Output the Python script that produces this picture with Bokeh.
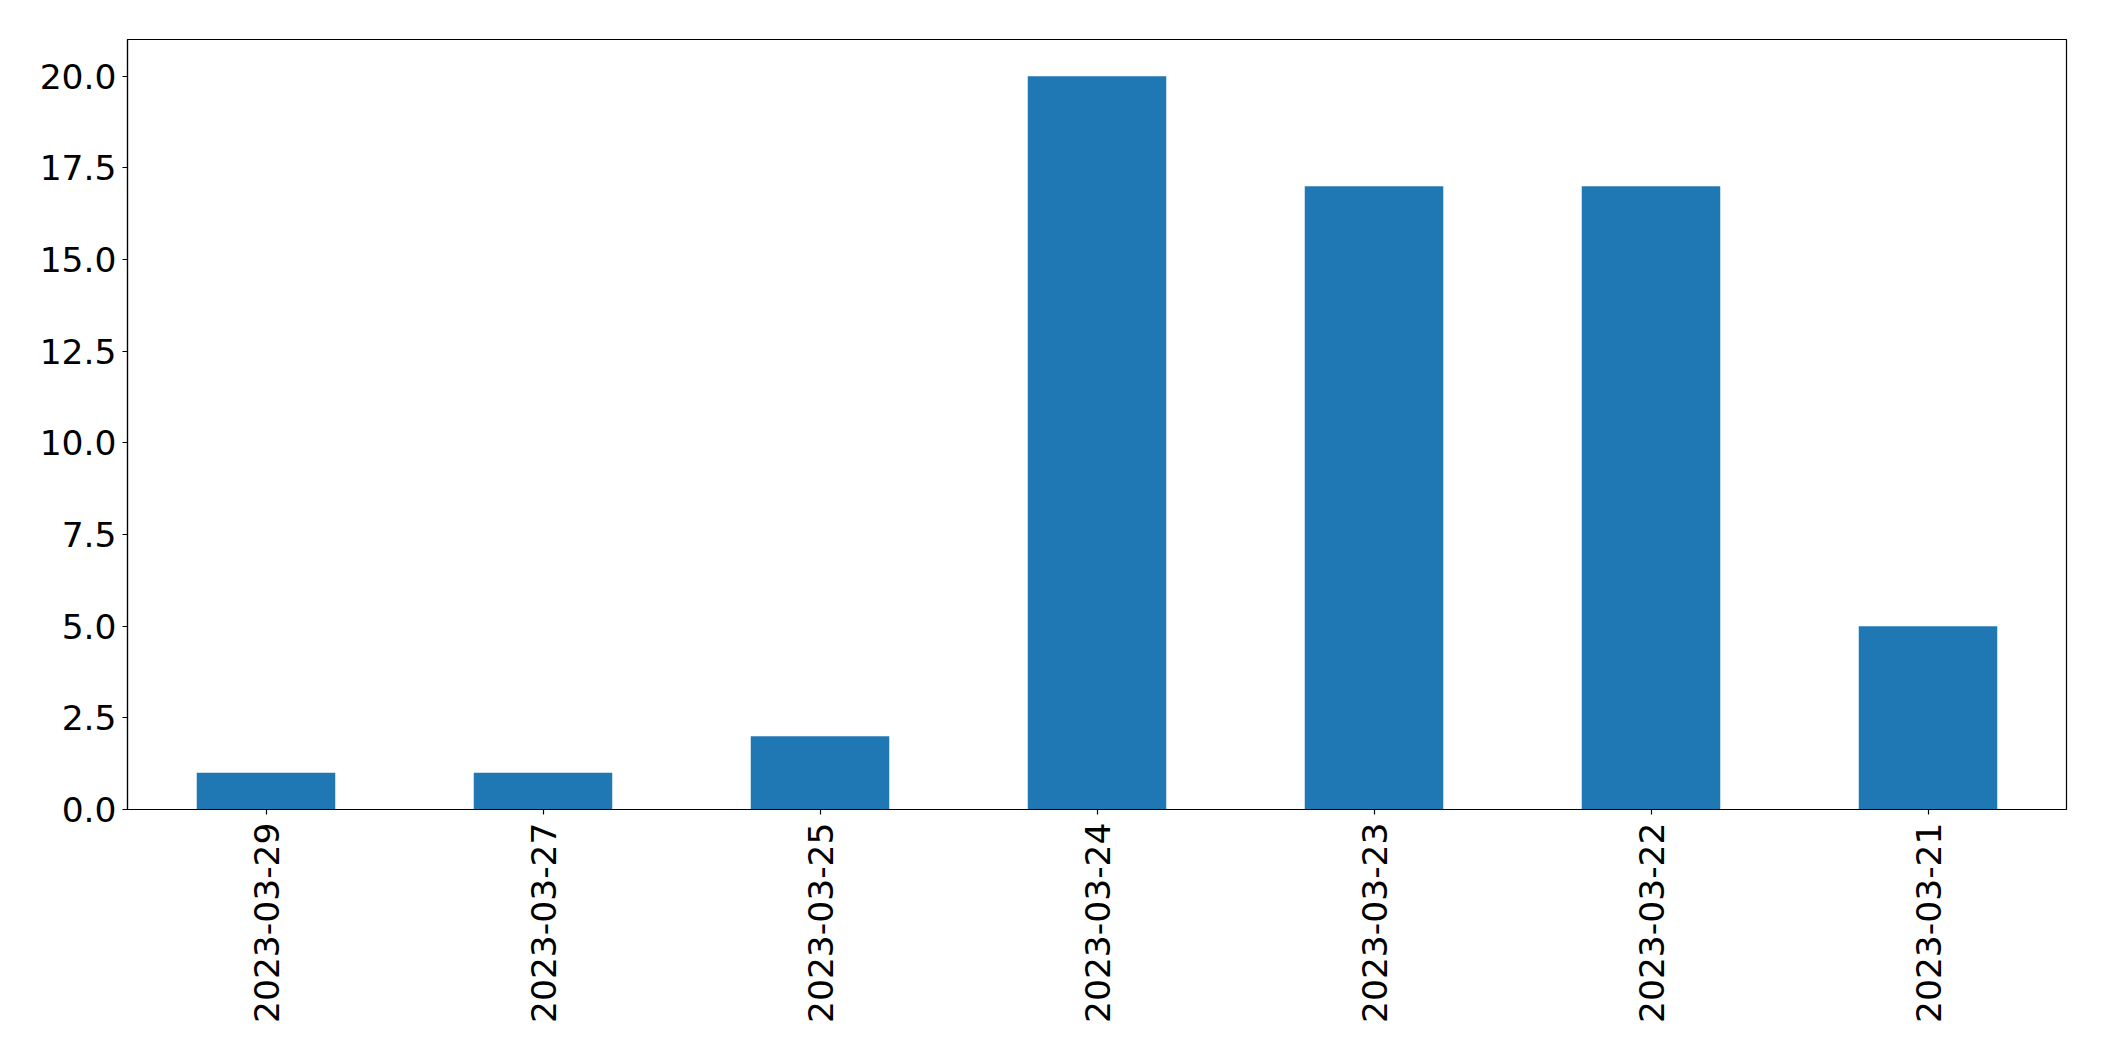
import math
from bokeh.plotting import figure
from bokeh.models import FactorRange, Range1d, FixedTicker, PrintfTickFormatter, ColumnDataSource
from bokeh.embed import file_html
from bokeh.resources import INLINE

dates = ['2023-03-29', '2023-03-27', '2023-03-25', '2023-03-24', '2023-03-23', '2023-03-22', '2023-03-21']
counts = [1, 1, 2, 20, 17, 17, 5]
y_ticks = [0, 2.5, 5, 7.5, 10, 12.5, 15, 17.5, 20]

src = ColumnDataSource(dict(x=dates, top=counts))

p = figure(x_range=FactorRange(*dates, range_padding=0), y_range=Range1d(0, 21),
           width=2096, height=1053, output_backend="svg", toolbar_location=None,
           min_border_left=127, min_border_top=39, min_border_right=30, min_border_bottom=244)
p.vbar(x='x', top='top', width=0.5, source=src, color="#1f77b4", line_color=None)

p.xgrid.visible = False
p.ygrid.visible = False
p.outline_line_color = "black"
p.outline_line_width = 1.2
p.background_fill_color = "white"
p.border_fill_color = "white"

for ax in (p.xaxis[0], p.yaxis[0]):
    ax.major_label_text_font = "DejaVu Sans"
    ax.major_label_text_font_size = "34.5px"
    ax.major_label_text_color = "black"
    ax.axis_line_color = "black"
    ax.axis_line_width = 1.2
    ax.major_tick_line_color = "black"
    ax.major_tick_line_width = 1.2
    ax.major_tick_out = 5
    ax.major_tick_in = 0
    ax.minor_tick_line_color = None

p.yaxis[0].ticker = FixedTicker(ticks=y_ticks)
p.yaxis[0].formatter = PrintfTickFormatter(format="%.1f")
p.yaxis[0].major_label_standoff = 6
p.xaxis[0].major_label_orientation = math.pi / 2
p.xaxis[0].major_label_standoff = 8

open("out.html", "w").write(file_html(p, INLINE))
